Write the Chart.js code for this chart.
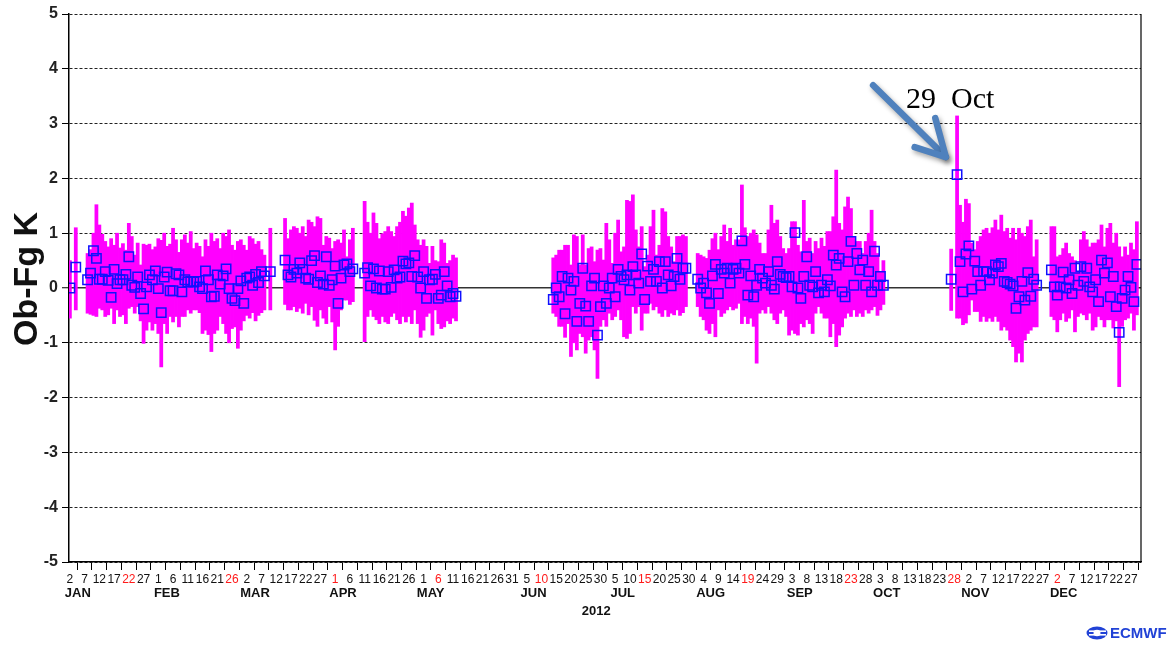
<!DOCTYPE html>
<html><head><meta charset="utf-8">
<script src="https://cdn.jsdelivr.net/npm/chart.js@4.4.0/dist/chart.umd.min.js"></script>
<style>html,body{margin:0;padding:0;background:#fff;}#wrap{width:1176px;height:646px;}</style>
</head><body><div id="wrap"><canvas id="c" width="1176" height="646"></canvas></div>
<script>
// ---------- DATA (day index: 0 = 1 Jan 2012) ----------
const tickLabels = ['2','7','12','17','22','27','1','6','11','16','21','26','2','7','12','17','22','27','1','6','11','16','21','26','1','6','11','16','21','26','31','5','10','15','20','25','30','5','10','15','20','25','30','4','9','14','19','24','29','3','8','13','18','23','28','3','8','13','18','23','28','2','7','12','17','22','27','2','7','12','17','22','27'];
const redTickDays = [21,56,91,126,161,196,231,266,301,336];
const monthNames = ['JAN','FEB','MAR','APR','MAY','JUN','JUL','AUG','SEP','OCT','NOV','DEC'];
const monthLabelDays = [-0.7,29.5,58.8,89,118.7,153.9,184.4,213.5,244.2,273.5,303.4,333.5];
const yearLabel = '2012';

const s1Start = 1, s1Mean = [0.0], s1Lo = [-0.55], s1Hi = [0.5];
const s1bStart = 3, s1bMean = [0.38], s1bLo = [-0.4], s1bHi = [1.1];

const s2Start = 7;
const s2Mean = [0.15,0.27,0.68,0.54,0.16,0.16,0.30,0.14,-0.17,0.34,0.08,0.15,0.15,0.25,0.57,0.05,0.01,0.20,-0.10,-0.38,0.02,0.24,0.15,0.31,-0.01,-0.45,0.20,0.29,-0.05,-0.05,0.26,0.24,-0.07,0.15,0.11,0.12,0.11,0.12,0.02,-0.01,0.31,0.15,-0.16,-0.15,0.24,0.07,0.22,0.35,-0.01,-0.19,-0.23,-0.01,0.13,-0.28,0.18,0.20,0.05,0.25,0.10,0.30,0.22];
const s2Hi = [0.63,0.7,1.0,1.52,1.15,0.98,0.85,0.75,0.9,0.78,1.0,0.73,0.81,0.69,1.18,0.94,0.6,0.82,0.42,0.8,0.78,0.8,0.7,0.75,0.9,0.87,1.0,0.76,0.8,1.09,0.88,0.65,0.88,0.97,0.82,1.03,0.72,0.82,0.76,0.57,0.88,0.76,1.0,0.85,0.9,0.72,1.0,0.94,1.06,0.78,0.69,0.85,0.88,0.78,0.69,0.94,0.9,0.8,0.85,0.7,0.6];
const s2Lo = [-0.46,-0.48,-0.5,-0.52,-0.37,-0.4,-0.52,-0.49,-0.37,-0.65,-0.4,-0.52,-0.49,-0.65,-0.37,-0.34,-0.46,-0.34,-0.6,-1.01,-0.77,-0.62,-0.77,-0.65,-0.83,-1.44,-0.65,-0.83,-0.52,-0.62,-0.52,-0.71,-0.52,-0.52,-0.4,-0.46,-0.4,-0.4,-0.45,-0.83,-0.77,-0.85,-1.16,-0.83,-0.77,-0.52,-0.65,-0.83,-1.0,-0.74,-0.71,-1.1,-0.77,-0.6,-0.5,-0.55,-0.45,-0.6,-0.5,-0.45,-0.4];

const s2bStart = 69, s2bMean = [0.3], s2bLo = [-0.4], s2bHi = [1.09];

const s3Start = 74;
const s3Mean = [0.51,0.24,0.2,0.34,0.27,0.46,0.34,0.18,0.16,0.5,0.59,0.1,0.22,0.07,0.57,0.05,0.15,0.4,-0.28,0.18,0.42,0.44,0.3,0.35];
const s3Hi = [1.27,0.9,1.06,1.12,1.09,1.0,1.12,0.94,1.24,1.2,1.12,1.3,1.27,0.78,0.94,0.91,0.72,0.85,0.88,0.82,1.06,0.57,0.88,1.09];
const s3Lo = [-0.3,-0.4,-0.4,-0.34,-0.43,-0.37,-0.46,-0.28,-0.49,-0.34,-0.59,-0.7,-0.4,-0.55,-0.65,-0.34,-0.62,-1.13,-0.7,-0.4,-0.22,-0.22,-0.3,-0.25];

const s4Start = 101;
const s4Mean = [0.27,0.37,0.04,0.35,0.0,0.31,-0.02,-0.02,0.3,0.01,0.33,0.18,0.2,0.49,0.44,0.46,0.21,0.59,0.2,0.0,0.3,-0.19,0.15,0.16,0.25,-0.19,-0.13,0.3,0.04,-0.16,-0.1,-0.15];
const s4Hi = [1.58,1.2,1.0,1.37,1.18,0.9,0.99,1.03,1.12,1.03,0.94,1.12,1.2,1.4,1.31,1.46,1.55,1.15,0.88,0.78,0.88,0.76,0.45,0.76,0.5,0.48,0.88,0.82,0.45,0.5,0.6,0.55];
const s4Lo = [-0.98,-0.52,-0.4,-0.52,-0.58,-0.65,-0.52,-0.62,-0.65,-0.52,-0.46,-0.58,-0.65,-0.52,-0.62,-0.52,-0.65,-0.4,-0.65,-0.9,-0.77,-0.52,-0.46,-0.86,-0.4,-0.65,-0.74,-0.71,-0.6,-0.65,-0.55,-0.6];

const s5Start = 165;
const s5Mean = [-0.21,0.0,-0.16,0.21,-0.47,0.18,-0.04,0.12,-0.61,-0.28,0.36,-0.33,-0.61,0.04,0.18,-0.86,-0.34,0.04,-0.28,0.0,0.18,-0.16,0.34,0.21,0.15,0.24,-0.04,0.39,0.24,0.09,0.62,-0.21,0.4,0.12,0.34,0.12,0.48,0.0,0.48,0.24,0.04,0.21,0.54,0.16,0.36,0.36];
const s5Hi = [0.55,0.6,0.69,0.69,0.78,0.78,0.42,0.97,0.94,0.42,0.97,0.42,0.72,0.75,0.48,0.69,0.72,0.51,1.18,0.88,0.45,1.0,1.24,0.66,0.75,1.6,1.58,1.7,1.06,0.75,1.12,0.39,0.6,1.12,1.42,0.6,0.78,1.45,1.39,0.94,0.75,0.48,0.94,0.94,0.97,0.94];
const s5Lo = [-0.46,-0.52,-0.7,-0.7,-0.9,-0.65,-1.25,-1.0,-1.13,-0.83,-0.89,-1.19,-0.95,-0.89,-1.13,-1.65,-0.7,-0.58,-0.7,-0.46,-0.58,-0.52,-0.4,-0.58,-0.89,-0.92,-0.83,-0.34,-0.46,-0.34,-0.77,-0.46,-0.46,-0.28,-0.4,-0.34,-0.46,-0.52,-0.4,-0.52,-0.46,-0.49,-0.4,-0.5,-0.45,-0.34];

const s6Start = 214;
const s6Mean = [0.16,0.0,0.09,-0.09,-0.28,0.22,0.43,-0.1,0.34,0.27,0.36,0.09,0.34,0.36,0.27,0.86,0.43,-0.13,0.22,-0.16,0.05,0.34,0.18,0.09,0.3,0.05,-0.02,0.48,0.25,0.21,0.19,0.21,0.02,1.01,0.0,-0.19,0.21,0.57,0.05,0.02,0.3,-0.09,0.05,-0.07,0.15,0.04,0.6,0.42,0.54,-0.07,-0.16,0.48,0.85,0.05,0.63,0.33,0.51,0.05,0.3,-0.07,0.67,0.05,0.21,0.05];
const s6Hi = [0.63,0.6,0.57,0.54,0.69,0.9,1.0,0.7,0.94,1.15,0.85,1.09,0.78,0.88,0.88,1.88,1.1,0.94,1.0,1.06,0.97,0.82,0.63,0.63,1.06,1.51,1.18,1.24,0.94,0.72,0.63,0.72,1.21,1.21,0.78,0.66,1.6,0.85,0.91,0.63,0.85,0.72,0.91,0.76,1.03,1.03,1.3,2.15,1.18,1.06,1.48,1.66,1.45,0.94,0.85,0.85,0.63,0.85,1.0,1.42,0.85,0.63,0.3,0.5];
const s6Lo = [-0.34,-0.52,-0.58,-0.77,-0.83,-0.65,-0.89,-0.4,-0.52,-0.46,-0.4,-0.34,-0.4,-0.37,-0.28,-0.65,-0.52,-0.65,-0.55,-0.7,-1.37,-0.46,-0.4,-0.46,-0.34,-0.46,-0.58,-0.65,-0.46,-0.4,-0.52,-0.86,-0.77,-0.83,-0.86,-0.65,-0.71,-0.58,-0.65,-0.83,-0.46,-0.34,-0.46,-0.55,-0.55,-0.89,-0.65,-1.07,-0.86,-0.71,-0.55,-0.46,-0.52,-0.4,-0.52,-0.46,-0.52,-0.4,-0.46,-0.4,-0.34,-0.5,-0.4,-0.3];

const s7aStart = 300, s7aMean = [0.16], s7aLo = [-0.41], s7aHi = [0.71];
const s7Start = 302;
const s7Mean = [2.07,0.48,-0.07,0.62,0.77,-0.02,0.49,0.3,0.05,0.3,0.3,0.15,0.27,0.42,0.39,0.45,0.12,0.1,0.07,0.04,-0.37,-0.16,0.12,-0.22,0.28,-0.15,0.16,0.05];
const s7Hi = [3.14,1.51,1.2,1.62,1.54,0.82,0.7,0.85,0.94,1.06,1.09,1.0,1.1,1.24,1.06,1.33,1.03,1.09,0.91,1.09,0.88,1.09,1.0,0.94,1.12,1.24,0.57,0.88];
const s7Lo = [-0.55,-0.55,-0.67,-0.64,-0.49,-0.22,-0.43,-0.43,-0.61,-0.52,-0.61,-0.55,-0.61,-0.52,-0.61,-0.77,-0.71,-0.77,-0.95,-1.07,-1.35,-1.19,-1.35,-0.95,-0.83,-0.77,-0.71,-0.71];

const s8Start = 334;
const s8Mean = [0.33,0.02,-0.13,0.02,0.29,0.0,0.15,-0.1,0.36,0.05,0.39,0.12,0.36,0.02,-0.07,0.15,-0.25,0.51,0.27,0.46,-0.16,0.21,-0.34,-0.81,-0.19,-0.04,0.21,0.01,-0.25,0.43];
const s8Hi = [1.12,1.12,0.57,0.6,0.72,0.82,0.63,0.57,0.5,0.3,0.88,1.03,0.88,0.75,0.82,0.82,0.88,1.15,0.75,1.09,1.18,0.82,1.0,0.75,0.57,0.75,0.6,0.82,0.7,1.21];
const s8Lo = [-0.52,-0.58,-0.8,-0.58,-0.46,-0.61,-0.55,-0.4,-0.8,-0.52,-0.46,-0.49,-0.58,-0.46,-0.77,-0.71,-0.52,-0.58,-0.71,-0.58,-0.58,-0.73,-0.6,-1.8,-0.7,-0.58,-0.55,-0.46,-0.77,-0.49];

// annotation anchors (in data units)
const annotText = '29  Oct';
const annotTextAt = {x: 284.7, y: 3.28};
const arrowFrom = {x: 273.5, y: 3.70};
const arrowTip = {x: 298.2, y: 2.39};
const arrowWing1 = {x: 287.6, y: 2.57};
const arrowWing2 = {x: 294.6, y: 3.10};

// ---------- build datasets ----------
const segments = [
  [s1Start, s1Mean, s1Lo, s1Hi], [s1bStart, s1bMean, s1bLo, s1bHi],
  [s2Start, s2Mean, s2Lo, s2Hi], [s2bStart, s2bMean, s2bLo, s2bHi],
  [s3Start, s3Mean, s3Lo, s3Hi], [s4Start, s4Mean, s4Lo, s4Hi],
  [s5Start, s5Mean, s5Lo, s5Hi], [s6Start, s6Mean, s6Lo, s6Hi],
  [s7aStart, s7aMean, s7aLo, s7aHi], [s7Start, s7Mean, s7Lo, s7Hi],
  [s8Start, s8Mean, s8Lo, s8Hi]
];
const barData = [], ptData = [];
segments.forEach(([st, m, lo, hi]) => {
  m.forEach((v, i) => {
    const d = st + i;
    if (lo[i] !== undefined && hi[i] !== undefined) barData.push({x: d, y: [lo[i], hi[i]]});
    ptData.push({x: d, y: v});
  });
});
const tickDays = tickLabels.map((_, i) => 1 + 5 * i);
const FONT = "'Liberation Sans', Arial, sans-serif";

const decor = {
  id: 'decor',
  afterDraw(chart) {
    const {ctx, chartArea: ca} = chart;
    const xs = chart.scales.x, ys = chart.scales.y;
    ctx.save();
    // frame right
    ctx.strokeStyle = '#000'; ctx.lineWidth = 1.2;
    ctx.beginPath(); ctx.moveTo(ca.right, ca.top); ctx.lineTo(ca.right, ca.bottom); ctx.stroke();
    // month labels
    ctx.fillStyle = '#111'; ctx.font = 'bold 13px ' + FONT;
    ctx.textAlign = 'left'; ctx.textBaseline = 'middle';
    monthNames.forEach((n, i) => ctx.fillText(n, xs.getPixelForValue(monthLabelDays[i]), 593));
    ctx.textAlign = 'center';
    ctx.fillText(yearLabel, xs.getPixelForValue(179.6), 611);
    // y title
    ctx.save();
    ctx.translate(28, (ca.top + ca.bottom) / 2 - 9);
    ctx.rotate(-Math.PI / 2);
    ctx.font = 'bold 34px ' + FONT; ctx.fillStyle = '#111';
    ctx.textAlign = 'center'; ctx.textBaseline = 'middle';
    ctx.fillText('Ob-Fg K', 0, 0);
    ctx.restore();
    // annotation text
    ctx.font = "30px 'Liberation Serif', 'Times New Roman', serif";
    ctx.fillStyle = '#000'; ctx.textAlign = 'left'; ctx.textBaseline = 'alphabetic';
    ctx.fillText(annotText, xs.getPixelForValue(annotTextAt.x), ys.getPixelForValue(annotTextAt.y));
    // arrow
    const P = p => [xs.getPixelForValue(p.x), ys.getPixelForValue(p.y)];
    const f = P(arrowFrom), t = P(arrowTip), w1 = P(arrowWing1), w2 = P(arrowWing2);
    ctx.save();
    ctx.shadowColor = 'rgba(0,0,0,0.35)'; ctx.shadowBlur = 5; ctx.shadowOffsetX = 2; ctx.shadowOffsetY = 3;
    ctx.strokeStyle = '#4f81bd'; ctx.lineWidth = 6.5; ctx.lineCap = 'round'; ctx.lineJoin = 'round';
    ctx.beginPath(); ctx.moveTo(f[0], f[1]); ctx.lineTo(t[0], t[1]); ctx.stroke();
    ctx.beginPath(); ctx.moveTo(w1[0], w1[1]); ctx.lineTo(t[0], t[1]); ctx.lineTo(w2[0], w2[1]); ctx.stroke();
    ctx.restore();
    // ECMWF logo
    const lx = 1087, ly = 633;
    ctx.fillStyle = '#2142d6';
    ctx.beginPath(); ctx.ellipse(lx + 10, ly, 10.5, 6.5, 0, 0, Math.PI * 2); ctx.fill();
    ctx.fillStyle = '#fff';
    ctx.fillRect(lx + 2, ly - 2.6, 17, 1.6);
    ctx.fillRect(lx + 2, ly + 1.0, 17, 1.6);
    ctx.beginPath(); ctx.ellipse(lx + 10, ly, 3.5, 3.2, 0, 0, Math.PI * 2); ctx.fill();
    ctx.fillStyle = '#2142d6';
    ctx.font = 'bold 15px ' + FONT; ctx.textAlign = 'left'; ctx.textBaseline = 'middle';
    ctx.fillText('ECMWF', lx + 23, ly + 0.5);
    ctx.restore();
  }
};

new Chart(document.getElementById('c'), {
  type: 'bar',
  data: {
    datasets: [
      {type: 'scatter', data: ptData, order: 0, pointStyle: 'rect', radius: 6.6, borderColor: '#1010ff',
       backgroundColor: 'rgba(0,0,0,0)', borderWidth: 1.5, showLine: false},
      {type: 'bar', data: barData, order: 1, backgroundColor: '#ff00ff', borderWidth: 0,
       barThickness: 3.1, grouped: false}
    ]
  },
  options: {
    responsive: false, animation: false, devicePixelRatio: 1,
    layout: {padding: {left: 0, right: 35, top: 14, bottom: 0}},
    plugins: {legend: {display: false}, tooltip: {enabled: false}},
    scales: {
      x: {
        type: 'linear', min: 0.7, max: 364.4, offset: false,
        afterBuildTicks: s => { s.ticks = tickDays.map(v => ({value: v})); },
        afterFit: s => { s.height = 84; },
        ticks: {
          autoSkip: false, maxRotation: 0, minRotation: 0, padding: 2,
          font: {family: FONT, size: 12},
          color: c => redTickDays.includes(c.tick && c.tick.value) ? '#ff1a1a' : '#111',
          callback: (v) => { const i = tickDays.indexOf(v); return i >= 0 ? tickLabels[i] : ''; }
        },
        grid: {display: true, drawOnChartArea: false, drawTicks: true, tickLength: 8, tickColor: '#000', tickWidth: 1},
        border: {display: true, color: '#000', width: 1.5}
      },
      y: {
        min: -5, max: 5,
        afterFit: s => { s.width = 69; },
        ticks: {stepSize: 1, padding: 4, font: {family: FONT, size: 16, weight: 'bold'}, color: '#222'},
        grid: {
          display: true, drawOnChartArea: true, drawTicks: true, tickLength: 7, tickColor: '#000', tickWidth: 1,
          color: c => c.tick && c.tick.value === 0 ? '#333' : '#222',
          lineWidth: c => c.tick && c.tick.value === 0 ? 1.5 : 1
        },
        border: {display: true, color: '#000', width: 1.5, dash: c => (c.tick && c.tick.value === 0) ? [] : [3, 2]}
      }
    }
  },
  plugins: [decor]
});
</script>
</body></html>
